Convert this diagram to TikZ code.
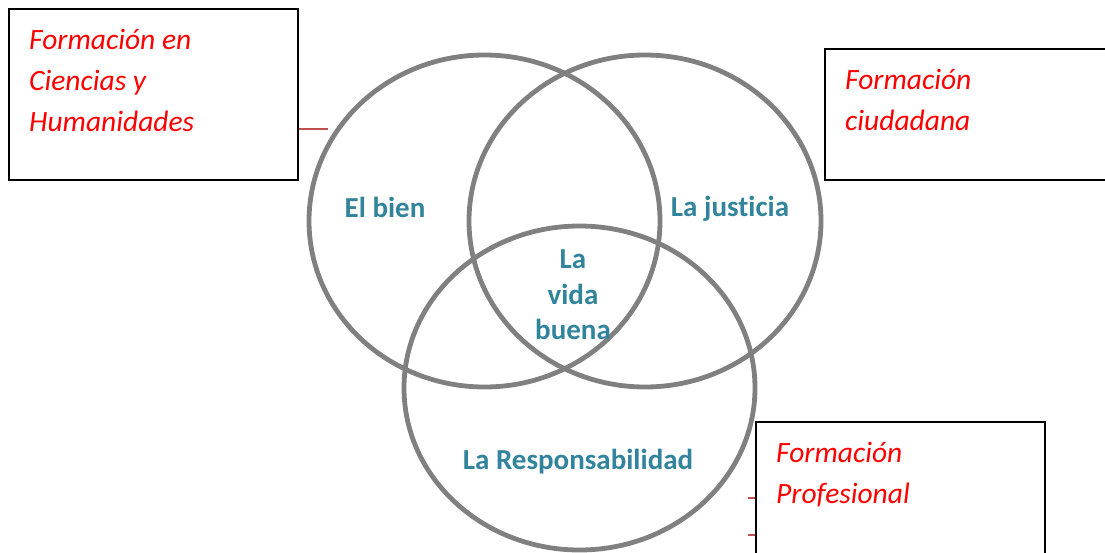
\documentclass[tikz,border=0pt]{standalone}
\usepackage{fontspec}
\setmainfont{Carlito}[Ligatures=NoCommon]
\usetikzlibrary{shapes.geometric, positioning}
\definecolor{ringgray}{HTML}{808080}
\definecolor{valteal}{HTML}{31849B}
\definecolor{stubred}{HTML}{C0504D}
\tikzset{
ring/.style={ellipse, draw=ringgray, line width=4.8pt, inner sep=0pt},
val/.style={text=valteal, font=\fontsize{29}{35.5}\selectfont\bfseries, align=center, inner sep=0pt},
area/.style={rectangle, draw=black, line width=2pt, fill=white, inner sep=0pt},
arealabel/.style={text=red, font=\fontsize{29.5}{41}\selectfont\itshape, align=left, inner sep=0pt},
stub/.style={draw=stubred, line width=1.3pt},
}

\begin{document}
\begin{tikzpicture}[x=1pt, y=-1pt]
\useasboundingbox (0,0) rectangle (1105,552);
    % the three rings
    \node[ring, minimum width=351pt, minimum height=332pt] (bien) at (484.5,221) {};
    \node[ring, minimum width=352pt, minimum height=332pt] (justicia) at (645,221) {};
    \node[ring, minimum width=351pt, minimum height=324pt] (resp) at (579.5,388) {};

    \node[val] (tbien) at (385,207) {El bien};
    \node[val] (tjusticia) at (730,209) {La justicia};
    \node[val] (tvida) at (573,295) {La\\vida\\buena};
    \node[val] (tresp) at (578,462) {La Responsabilidad};

    % the boxes
    \node[area, minimum width=289pt, minimum height=171pt] (f1) at (153.5,94.5) {};
    \node[area, minimum width=290pt, minimum height=131pt] (f2) at (970,114.5) {};
    \node[area, minimum width=289pt, minimum height=138pt] (f3) at (900.5,491) {};

    \node[arealabel, below right=21pt and 21pt of f1.north west] (l1) {Formación en\\Ciencias y\\Humanidades};
    \node[arealabel, below right=21pt and 21pt of f2.north west] (l2) {Formación\\ciudadana};
    \node[arealabel, below right=21pt and 21pt of f3.north west] (l3) {Formación\\Profesional};

    \coordinate (s1) at (328,129);
    \coordinate (s2) at (748,498);
    \coordinate (s3) at (748,535);
    \draw[stub] (s1) -- (s1 -| f1.east);
    \draw[stub] (s2) -- (s2 -| f3.west);
    \draw[stub] (s3) -- (s3 -| f3.west);
\end{tikzpicture}
\end{document}
